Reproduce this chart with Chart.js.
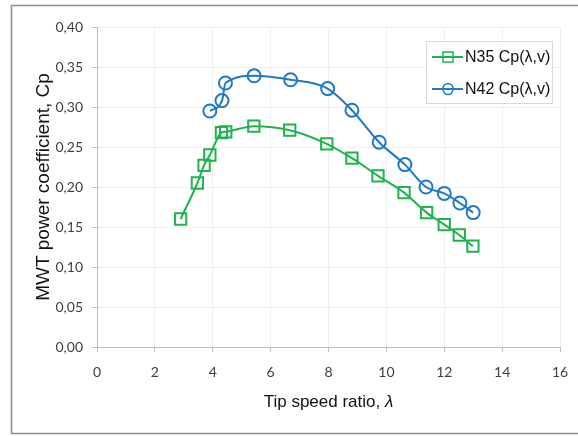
<!DOCTYPE html>
<html>
<head>
<meta charset="utf-8">
<script src="https://cdn.jsdelivr.net/npm/chart.js@4.4.1/dist/chart.umd.min.js"></script>
<style>
  html, body { margin: 0; padding: 0; background: #fff; }
  #wrap { width: 578px; height: 436px; position: relative; }
</style>
</head>
<body>
<div id="wrap"><canvas id="chartCp" width="578" height="436"></canvas></div>
<script>
// tip speed ratio and power coefficient
const tsrN35 = [2.89, 3.47, 3.70, 3.90, 4.30, 4.45, 5.42, 6.66, 7.94, 8.81, 9.71, 10.61, 11.39, 12.00, 12.52, 12.99];
const cpN35  = [0.160, 0.205, 0.227, 0.240, 0.268, 0.269, 0.276, 0.271, 0.254, 0.236, 0.214, 0.193, 0.168, 0.153, 0.140, 0.126];

const tsrN42 = [3.90, 4.32, 4.44, 5.43, 6.69, 7.97, 8.81, 9.75, 10.64, 11.37, 12.00, 12.54, 13.00];
const cpN42  = [0.295, 0.308, 0.330, 0.339, 0.334, 0.323, 0.296, 0.256, 0.228, 0.200, 0.192, 0.180, 0.168];

const seriesNames = ["N35 Cp(λ,v)", "N42 Cp(λ,v)"];
const xTitle = "Tip speed ratio, ";
const yTitle = "MWT power coefficient, Cp";

const GREEN = "#1fb34f";
const BLUE = "#1f78c8";

const toPoints = (xs, ys) => xs.map((x, i) => ({ x: x, y: ys[i] }));

/* ================= FRAME + X TITLE + LEGEND ================= */
const decor = {
  id: "decor",
  beforeDraw(chart) {
    const c = chart.ctx;
    c.save();
    c.fillStyle = "#fff";
    c.fillRect(0, 0, chart.width, chart.height);
    c.strokeStyle = "#8c8c8c";
    c.lineWidth = 1.5;
    c.strokeRect(11.5, 5.5, 570, 428);
    c.restore();
  },
  afterDraw(chart) {
    const c = chart.ctx;
    const area = chart.chartArea;
    c.save();
    // x axis title with italic lambda
    c.fillStyle = "#111";
    c.textBaseline = "middle";
    c.font = "17px 'Liberation Sans', Arial, sans-serif";
    const w1 = c.measureText(xTitle).width;
    c.font = "italic 17px 'Liberation Sans', Arial, sans-serif";
    const w2 = c.measureText("λ").width;
    let x0 = (area.left + area.right) / 2 - (w1 + w2) / 2;
    c.font = "17px 'Liberation Sans', Arial, sans-serif";
    c.textAlign = "left";
    c.fillText(xTitle, x0, 402);
    c.font = "italic 17px 'Liberation Sans', Arial, sans-serif";
    c.fillText("λ", x0 + w1, 402);

    // legend box
    c.fillStyle = "#fff";
    c.fillRect(426, 41, 126, 62);
    c.strokeStyle = "#d9d9d9";
    c.lineWidth = 1;
    c.strokeRect(426.5, 41.5, 126, 62);
    const rows = [57, 89];
    chart.data.datasets.forEach((ds, i) => {
      const y = rows[i];
      c.strokeStyle = ds.borderColor;
      c.lineWidth = 2;
      c.beginPath();
      c.moveTo(432, y);
      c.lineTo(463, y);
      c.stroke();
      c.lineWidth = 1.5;
      if (ds.pointStyle === "rect") {
        c.strokeRect(443, y - 5, 10, 10);
      } else {
        c.beginPath();
        c.ellipse(448, y, 5, 5.5, 0, 0, Math.PI * 2);
        c.stroke();
      }
      c.fillStyle = "#111";
      c.font = "16px 'Liberation Sans', Arial, sans-serif";
      c.textAlign = "left";
      c.textBaseline = "middle";
      c.fillText(ds.label, 465, y + 1);
    });
    c.restore();
  }
};

/* ================= CHART ================= */
new Chart(document.getElementById("chartCp"), {
  type: "scatter",
  data: {
    datasets: [
      {
        label: seriesNames[0],
        data: toPoints(tsrN35, cpN35),
        showLine: true,
        borderColor: GREEN,
        borderWidth: 2,
        backgroundColor: "rgba(0,0,0,0)",
        pointStyle: "rect",
        pointRadius: 8,
        pointBorderWidth: 2,
        pointBorderColor: GREEN,
        cubicInterpolationMode: "monotone"
      },
      {
        label: seriesNames[1],
        data: toPoints(tsrN42, cpN42),
        showLine: true,
        borderColor: BLUE,
        borderWidth: 2,
        backgroundColor: "rgba(0,0,0,0)",
        pointStyle: "circle",
        pointRadius: 6.5,
        pointBorderWidth: 2,
        pointBorderColor: BLUE,
        cubicInterpolationMode: "monotone"
      }
    ]
  },
  options: {
    responsive: false,
    animation: false,
    layout: { padding: { top: 27, right: 18, left: 0, bottom: 0 } },
    plugins: {
      legend: { display: false },
      tooltip: { enabled: false }
    },
    scales: {
      x: {
        type: "linear",
        min: 0,
        max: 16,
        ticks: {
          stepSize: 2,
          color: "#404040",
          padding: 12,
          font: { family: "Lato, 'Liberation Sans', sans-serif", size: 14 }
        },
        grid: { color: "#efefef", tickColor: "#bfbfbf", tickLength: 5 },
        border: { color: "#bfbfbf", width: 1 },
        afterFit: s => { s.height = 89; s.paddingLeft = 0; s.paddingRight = 0; }
      },
      y: {
        min: 0,
        max: 0.4,
        ticks: {
          stepSize: 0.05,
          color: "#404040",
          padding: 9,
          font: { family: "Lato, 'Liberation Sans', sans-serif", size: 14 },
          callback: v => v.toFixed(2).replace(".", ",")
        },
        grid: { color: "#efefef", tickColor: "#bfbfbf", tickLength: 5 },
        border: { color: "#bfbfbf", width: 1 },
        title: {
          display: true,
          text: yTitle,
          color: "#111",
          padding: { top: 32, bottom: 0 },
          font: { family: "'Liberation Sans', Arial, sans-serif", size: 19, weight: "normal" }
        },
        afterFit: s => { s.width = 97; s.paddingTop = 0; s.paddingBottom = 0; }
      }
    }
  },
  plugins: [decor]
});
</script>
</body>
</html>
